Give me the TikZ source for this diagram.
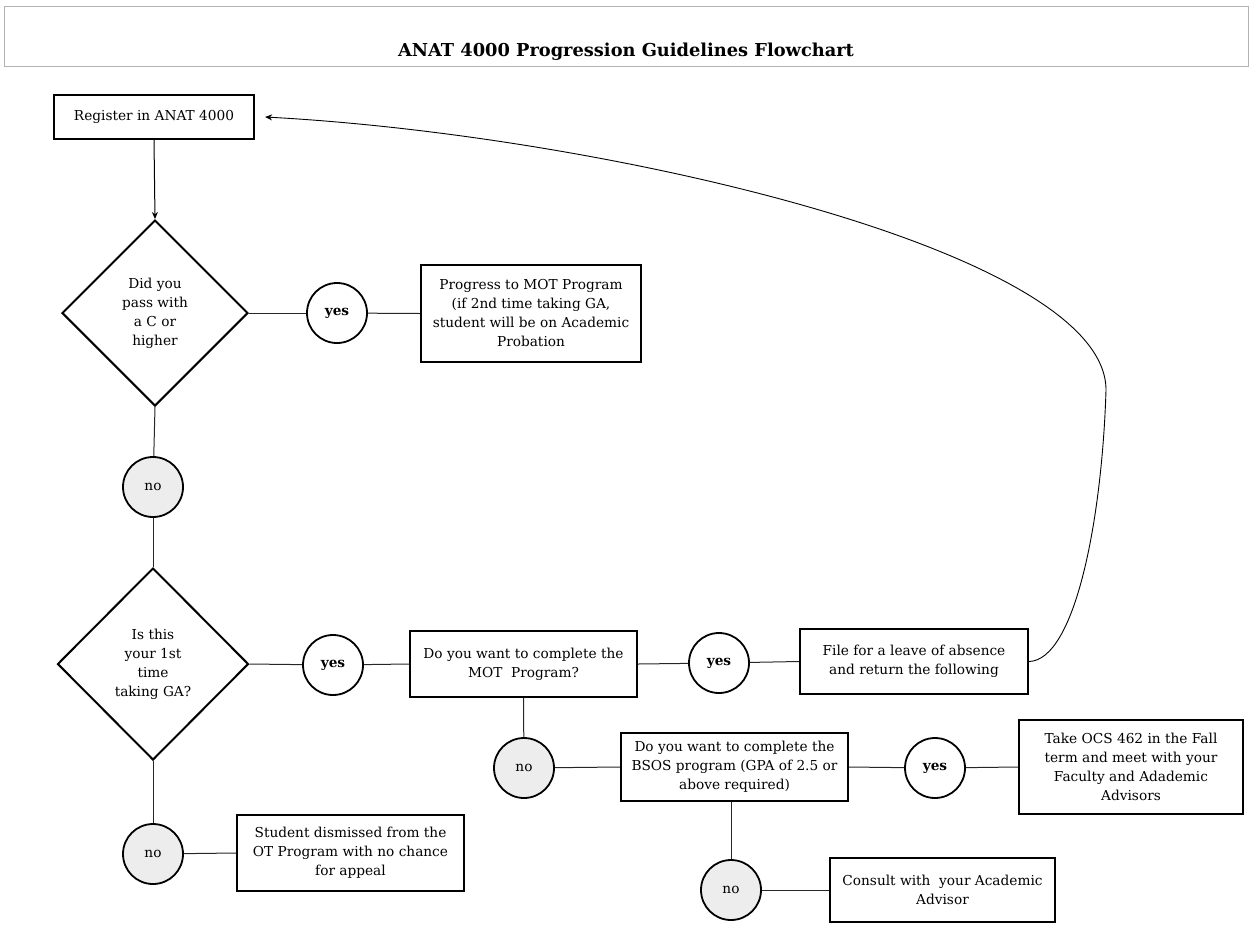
\documentclass[tikz,border=0pt]{standalone}
\usepackage{fontspec}
\setmainfont{DejaVu Serif}
\usetikzlibrary{shapes.geometric,arrows.meta}
\begin{document}
\begin{tikzpicture}[x=1pt,y=-1pt,
  txt/.style={font=\fontsize{13.7}{19}\selectfont, align=center},
  box/.style={txt, draw, line width=2.2pt, fill=white, inner sep=2pt},
  circ/.style={txt, circle, draw, line width=1.8pt, minimum size=60pt, inner sep=0pt, fill=white},
  nocirc/.style={circ, fill=black!7},
  yescirc/.style={circ, font=\fontsize{13.7}{19}\selectfont\bfseries},
  dia/.style={txt, diamond, shape aspect=1, draw, line width=2pt, inner sep=0pt, fill=white},
  conn/.style={line width=1pt, black!85},
  arr/.style={line width=1pt, -{Stealth[length=7pt,width=6pt]}}
]
\useasboundingbox (0,0) rectangle (1252,924);
\node[draw=black!30, line width=1pt, minimum width=1244pt, minimum height=60pt, inner sep=0pt] (titlebox) at (626,36) {};
\node[font=\fontsize{17.8}{20}\selectfont\bfseries] (title) at (626,52) {ANAT 4000 Progression Guidelines Flowchart};

\node[box, minimum width=200pt, minimum height=44pt] (reg) at (154,117) {Register in ANAT 4000};
\node[dia, minimum width=186pt, minimum height=186pt] (d1) at (155,313) {Did you\\pass with\\a C or\\higher};
\node[yescirc] (yes1) at (337,313) {yes};
\node[box, minimum width=220pt, minimum height=97pt] (prog) at (531,313.5) {Progress to MOT Program\\(if 2nd time taking GA,\\student will be on Academic\\Probation};
\node[nocirc] (no1) at (153,487) {no};
\node[dia, minimum width=191pt, minimum height=192pt] (d2) at (153,664) {Is this\\your 1st\\time\\taking GA?};
\node[yescirc] (yes2) at (333,665) {yes};
\node[box, minimum width=227pt, minimum height=66pt] (mot) at (523.5,664) {Do you want to complete the\\MOT\ \ Program?};
\node[yescirc] (yes3) at (719,663) {yes};
\node[box, minimum width=228pt, minimum height=65pt] (file) at (914,661.5) {File for a leave of absence\\and return the following};
\node[nocirc] (no2) at (524,768) {no};
\node[box, minimum width=227pt, minimum height=68pt] (bsos) at (734.5,767) {Do you want to complete the\\BSOS program (GPA of 2.5 or\\above required)};
\node[yescirc] (yes4) at (935,768) {yes};
\node[box, minimum width=224pt, minimum height=94pt] (ocs) at (1131,767) {Take OCS 462 in the Fall\\term and meet with your\\Faculty and Adademic\\Advisors};
\node[nocirc] (no3) at (731,890) {no};
\node[box, minimum width=225pt, minimum height=64pt] (cons) at (942.5,890) {Consult with\ \ your Academic\\Advisor};
\node[nocirc] (no4) at (153,854) {no};
\node[box, minimum width=227pt, minimum height=76pt] (dism) at (350.5,853) {Student dismissed from the\\OT Program with no chance\\for appeal};

\draw[arr] (reg.south) -- (d1.north);
\draw[conn] (d1.east) -- (yes1);
\draw[conn] (yes1) -- (prog.west);
\draw[conn] (d1.south) -- (no1);
\draw[conn] (no1) -- (d2.north);
\draw[conn] (d2.east) -- (yes2);
\draw[conn] (yes2) -- (mot.west);
\draw[conn] (mot.east) -- (yes3);
\draw[conn] (yes3) -- (file.west);
\draw[conn] (mot.south) -- (no2);
\draw[conn] (no2) -- (bsos.west);
\draw[conn] (bsos.east) -- (yes4);
\draw[conn] (yes4) -- (ocs.west);
\draw[conn] (bsos.south -| no3) -- (no3);
\draw[conn] (no3) -- (cons.west);
\draw[conn] (d2.south) -- (no4);
\draw[conn] (no4) -- (dism.west);
\coordinate (loopturn) at (1106,390);
\draw[arr, line width=0.9pt] (file.east) .. controls (1075,660) and (1102,520) .. (loopturn)
  .. controls (1106,250) and (600,135) .. ([xshift=10pt]reg.east);
\end{tikzpicture}
\end{document}
